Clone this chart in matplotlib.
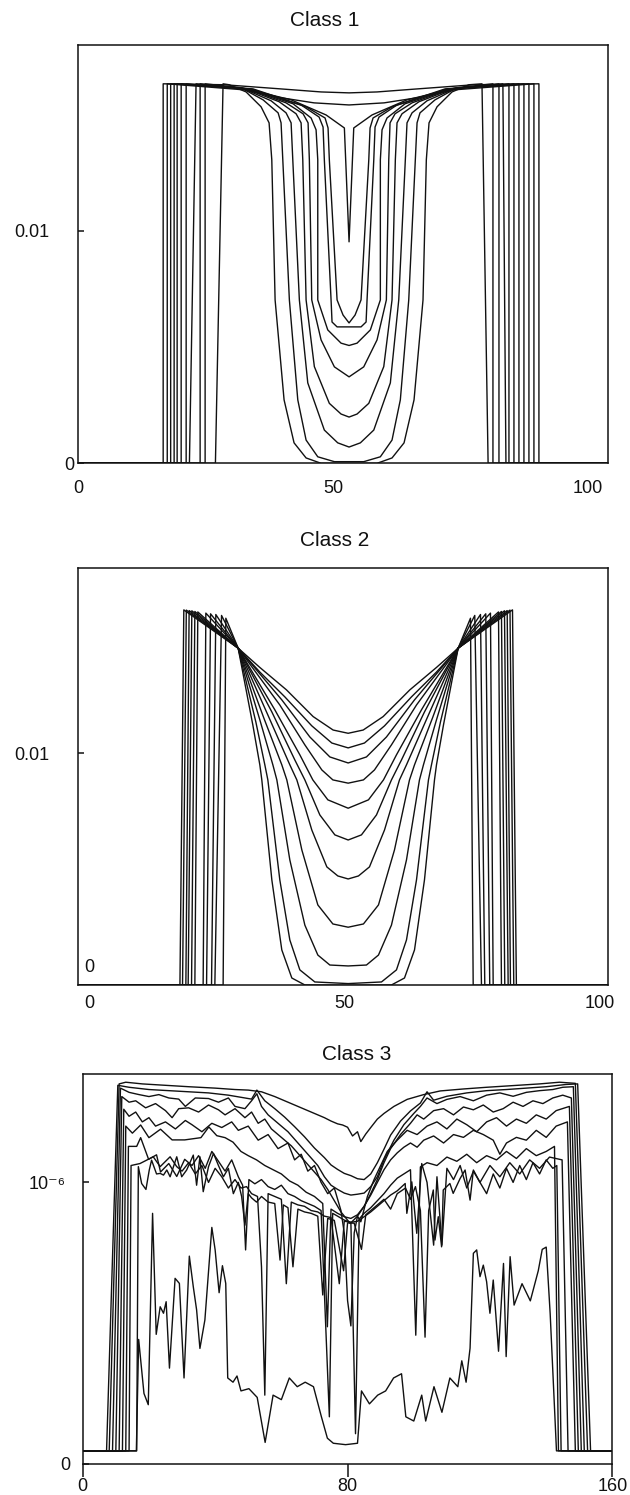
import matplotlib.pyplot as plt

plt.rcParams['font.family'] = ['Liberation Sans', 'DejaVu Sans']

# ---------------- Class 1 ----------------
# left half of each curve (from where it leaves the plateau to the centre),
# the right half is the mirror image about C1_CENTER
C1_CENTER = 53.12
C1_PLATEAU = 0.01633
C1_XMAX = 104

C1_TOP1 = [(28.61, 0.01629), (39.78, 0.01611), (47.63, 0.01598), (53.12, 0.01594)]
C1_TOP2 = [(32.53, 0.01607), (39.78, 0.01573), (46.25, 0.01551), (53.12, 0.01542)]
C1_V = [(31.94, 0.01616), (41.75, 0.01564), (48.61, 0.01499), (52.20, 0.01443), (53.12, 0.00953)]
C1_U2 = [(33.90, 0.01611), (44.69, 0.01534), (48.41, 0.01486), (49.00, 0.01443), (49.25, 0.01306),
         (50.77, 0.00703), (51.94, 0.00638), (53.12, 0.00604)]
C1_U1 = [(34.29, 0.01611), (43.71, 0.01542), (47.24, 0.01490), (48.02, 0.01447), (48.27, 0.01306),
         (49.59, 0.00703), (49.78, 0.00608), (50.77, 0.00587), (53.12, 0.00587)]
C1_F = [(33.51, 0.01611), (42.14, 0.01547), (45.67, 0.01486), (46.65, 0.01435), (46.98, 0.01306),
        (46.98, 0.00703), (48.94, 0.00574), (51.55, 0.00517), (53.12, 0.00507)]
C1_E = [(33.31, 0.01611), (40.76, 0.01551), (44.10, 0.01504), (45.08, 0.01465), (45.33, 0.01306),
        (45.80, 0.00703), (47.63, 0.00531), (50.24, 0.00415), (53.12, 0.00372)]
C1_D = [(32.92, 0.01611), (39.39, 0.01556), (42.73, 0.01504), (43.71, 0.01465), (44.04, 0.01306),
        (44.69, 0.00703), (46.31, 0.00416), (49.25, 0.00258), (51.55, 0.00212), (53.12, 0.00199)]
C1_C = [(32.53, 0.01611), (37.82, 0.01560), (40.76, 0.01508), (41.75, 0.01465), (42.08, 0.01306),
        (43.37, 0.00703), (45.02, 0.00346), (48.27, 0.00143), (50.90, 0.00088), (53.12, 0.00070)]
C1_B = [(31.94, 0.01616), (36.25, 0.01564), (39.20, 0.01508), (39.78, 0.01465), (40.12, 0.01306),
        (41.41, 0.00703), (43.06, 0.00273), (44.69, 0.00100), (46.98, 0.00028), (50.24, 0.00007),
        (53.12, 0.00007)]
C1_A = [(29.59, 0.01629), (32.92, 0.01598), (35.86, 0.01534), (37.43, 0.01465), (37.96, 0.01306),
        (38.61, 0.00703), (40.37, 0.00273), (42.33, 0.00088), (44.69, 0.00023), (47.63, 0.0),
        (53.12, 0.0)]
C1_CURVES = [C1_TOP1, C1_TOP2, C1_V, C1_U2, C1_U1, C1_F, C1_E, C1_D, C1_C, C1_B, C1_A]
# (x at the bottom, x at the top) of the jump up / down
C1_LEFT_EDGES = [(16.65, 16.65), (17.45, 17.45), (18.12, 18.12), (18.80, 18.80), (19.39, 19.39),
                 (20.18, 20.18), (21.16, 21.16), (21.80, 23.10), (23.90, 23.90), (24.88, 24.88),
                 (26.90, 28.40)]
C1_RIGHT_EDGES = [(90.37, 90.37), (89.39, 89.39), (88.41, 88.41), (87.43, 87.43), (86.45, 86.45),
                  (85.47, 85.47), (84.49, 84.49), (83.90, 83.30), (82.53, 82.53), (81.35, 81.35),
                  (80.40, 79.20)]

# ---------------- Class 2 ----------------
C2_CENTER = 50.69
C2_XMIN, C2_XMAX = -2.1, 101.6

C2_B1 = [(29.17, 0.01453), (33.40, 0.01370), (38.63, 0.01273), (43.84, 0.01158), (47.75, 0.01100),
         (50.69, 0.01086)]
C2_B2 = [(29.17, 0.01453), (33.41, 0.01350), (38.30, 0.01243), (43.58, 0.01118), (47.50, 0.01044),
         (50.69, 0.01023)]
C2_B3 = [(29.17, 0.01453), (37.71, 0.01230), (43.20, 0.01070), (47.11, 0.00984), (50.69, 0.00958)]
C2_B4 = [(29.17, 0.01453), (37.32, 0.01208), (42.22, 0.01036), (45.54, 0.00928), (47.70, 0.00885),
         (50.69, 0.00871)]
C2_B5 = [(29.17, 0.01453), (36.35, 0.01187), (41.24, 0.00993), (43.78, 0.00885), (46.72, 0.00799),
         (50.69, 0.00763)]
C2_B6 = [(29.17, 0.01453), (35.76, 0.01178), (40.26, 0.00971), (42.22, 0.00885), (45.15, 0.00734),
         (48.09, 0.00648), (50.69, 0.00626)]
C2_B7 = [(29.17, 0.01453), (34.98, 0.01165), (39.28, 0.00950), (40.65, 0.00885), (43.58, 0.00669),
         (46.52, 0.00510), (48.67, 0.00471), (50.69, 0.00458)]
C2_B8 = [(29.17, 0.01453), (34.19, 0.01152), (37.71, 0.00950), (38.69, 0.00885), (41.63, 0.00583),
         (44.76, 0.00346), (47.70, 0.00264), (50.69, 0.00250)]
C2_B9 = [(29.17, 0.01453), (33.41, 0.01144), (35.96, 0.00950), (36.74, 0.00885), (39.28, 0.00540),
         (42.22, 0.00259), (44.76, 0.00130), (47.11, 0.00087), (50.69, 0.00083)]
C2_B10 = [(29.17, 0.01453), (32.63, 0.01135), (34.39, 0.00950), (34.98, 0.00885), (37.32, 0.00454),
          (39.28, 0.00195), (41.24, 0.00066), (44.17, 0.00014), (50.69, 0.00007)]
C2_B11 = [(29.17, 0.01453), (32.04, 0.01122), (33.41, 0.00950), (33.80, 0.00885), (35.76, 0.00454),
          (37.71, 0.00152), (39.67, 0.00031), (42.22, 0.00001), (50.69, 0.0)]
C2_CURVES = [C2_B1, C2_B2, C2_B3, C2_B4, C2_B5, C2_B6, C2_B7, C2_B8, C2_B9, C2_B10, C2_B11]
C2_EDGES = [17.78, 18.29, 18.94, 19.39, 20.05, 20.70, 22.32, 22.99, 23.96, 24.61, 26.23]
C2_PEAKS = [(18.54, 0.01618), (19.03, 0.01617), (19.58, 0.01615), (20.11, 0.01614), (20.70, 0.01611),
            (21.28, 0.01609), (22.85, 0.01604), (23.77, 0.01601), (24.80, 0.01598), (25.92, 0.01594),
            (26.76, 0.01582)]

# ---------------- Class 3 (values in units of 1e-6) ----------------
C3_1 = [(0, .046), (8.0, .046), (11.0, 1.350), (13, 1.356), (18, 1.350), (25, 1.345), (32, 1.340),
        (40, 1.335), (46, 1.330), (50, 1.328), (54, 1.322), (58, 1.305), (62, 1.285), (66, 1.265),
        (70, 1.245), (73, 1.230), (75, 1.218), (77, 1.208), (78.5, 1.204), (80, 1.196), (81.5, 1.165),
        (83, 1.180), (84, 1.145), (85.5, 1.172), (87, 1.195), (89, 1.225), (91, 1.245), (94, 1.270),
        (98, 1.295), (103, 1.312), (108, 1.325), (115, 1.332), (122, 1.338), (130, 1.344), (138, 1.350),
        (144, 1.356), (148.8, 1.352), (152.5, .046), (160, .046)]
C3_2 = [(0, .046), (7.2, .046), (10.6, 1.345), (14, 1.338), (20, 1.330), (26, 1.326), (32, 1.322),
        (38, 1.318), (44, 1.310), (49, 1.300), (51, 1.296), (52.6, 1.328), (55, 1.290), (58, 1.262),
        (61, 1.232), (64, 1.198), (67, 1.162), (70, 1.122), (73, 1.088), (75, 1.062), (77, 1.046),
        (79, 1.032), (81, 1.024), (83, 1.013), (85, 1.010), (87, 1.030), (89, 1.070), (91, 1.118),
        (93, 1.168), (96, 1.218), (99, 1.254), (102, 1.282), (104, 1.322), (106, 1.292), (110, 1.306),
        (116, 1.318), (122, 1.326), (128, 1.330), (134, 1.335), (140, 1.340), (146, 1.348),
        (149.5, 1.350), (153.4, .046), (160, .046)]
C3_3 = [(0, .046), (9.0, .046), (11.4, 1.335), (14, 1.320), (17, 1.312), (20, 1.305), (23, 1.312),
        (26, 1.300), (29, 1.296), (31, 1.270), (34, 1.300), (38, 1.298), (41, 1.285), (44, 1.300),
        (46, 1.270), (49, 1.262), (51, 1.290), (52.6, 1.315), (54, 1.270), (56, 1.240), (59, 1.210),
        (62, 1.180), (65, 1.140), (68, 1.100), (71, 1.060), (73, 1.020), (75, 0.990), (77, 0.975),
        (79, 0.962), (81, 0.955), (83, 0.958), (85, 0.962), (87, 0.985), (89, 1.020), (91, 1.080),
        (94, 1.150), (97, 1.205), (100, 1.245), (102, 1.270), (104, 1.300), (107, 1.280), (110, 1.295),
        (114, 1.305), (118, 1.290), (122, 1.310), (126, 1.318), (130, 1.306), (134, 1.320),
        (138, 1.326), (142, 1.330), (145, 1.338), (148.2, 1.340), (151.5, .046), (160, .046)]
C3_4 = [(0, .046), (10.0, .046), (11.8, 1.305), (14, 1.285), (16, 1.290), (19, 1.265), (22, 1.280),
        (25, 1.255), (27, 1.230), (29, 1.262), (32, 1.265), (35, 1.250), (38, 1.275), (41, 1.258),
        (43, 1.240), (46, 1.262), (49, 1.230), (51, 1.250), (53, 1.210), (55, 1.225), (57, 1.190),
        (60, 1.160), (63, 1.130), (66, 1.090), (69, 1.050), (72, 1.010), (74, 0.975), (76, 0.935),
        (78, 0.895), (80.8, 0.854), (83, 0.880), (85, 0.915), (87, 0.960), (89, 1.010), (91, 1.070),
        (93, 1.120), (96, 1.170), (99, 1.210), (101, 1.240), (103, 1.225), (106, 1.255), (109, 1.262),
        (112, 1.240), (115, 1.268), (118, 1.258), (121, 1.275), (124, 1.250), (127, 1.262),
        (130, 1.285), (133, 1.270), (136, 1.290), (139, 1.280), (142, 1.300), (145, 1.310),
        (147.6, 1.300), (150.6, .046), (160, .046)]
C3_5 = [(0, .046), (11.0, .046), (12.4, 1.260), (14, 1.235), (16, 1.250), (18, 1.215), (20, 1.230),
        (22, 1.200), (25, 1.215), (28, 1.190), (31, 1.220), (33, 1.205), (36, 1.180), (39, 1.210),
        (42, 1.195), (45, 1.215), (47, 1.185), (50, 1.200), (53, 1.150), (56, 1.170), (59, 1.120),
        (62, 1.140), (64, 1.080), (66, 1.100), (68, 1.040), (70, 1.060), (72, 1.000), (74, 0.960),
        (76, 0.980), (78, 0.900), (79, 0.820), (80, 0.580), (81, 0.490), (82, 0.820), (83, 0.880),
        (84, 0.860), (86, 0.950), (88, 1.010), (90, 1.060), (92, 1.110), (95, 1.150), (98, 1.185),
        (101, 1.170), (104, 1.200), (107, 1.215), (110, 1.190), (113, 1.225), (116, 1.205),
        (119, 1.180), (122, 1.215), (125, 1.230), (128, 1.200), (131, 1.225), (134, 1.210),
        (137, 1.240), (140, 1.225), (143, 1.255), (147.0, 1.270), (149.7, .046), (160, .046)]
C3_6 = [(0, .046), (12.0, .046), (13.0, 1.200), (15, 1.175), (17.5, 1.204), (20, 1.159), (23.5, 1.189),
        (27, 1.151), (30.8, 1.151), (35.7, 1.159), (38.1, 1.197), (40.5, 1.166), (43, 1.159),
        (45.4, 1.143), (47.8, 1.110), (50, 1.095), (52.5, 1.080), (55, 1.060), (57.5, 1.045),
        (60, 1.030), (62.5, 1.005), (65, 0.990), (67.5, 0.965), (70, 0.950), (72.5, 0.925),
        (73.9, 0.487), (75, 0.905), (77, 0.890), (79, 0.878), (81, 0.872), (83, 0.885), (85, 0.915),
        (87, 0.955), (89, 1.000), (91, 1.045), (93, 1.080), (95, 1.105), (97, 1.125), (99, 1.140),
        (101, 1.125), (103, 1.150), (106, 1.165), (109, 1.140), (112, 1.170), (115, 1.160),
        (118, 1.185), (121, 1.170), (124, 1.150), (126, 1.100), (128, 1.140), (131, 1.160),
        (134, 1.150), (137, 1.185), (140, 1.160), (143, 1.200), (146.4, 1.215), (148.8, .046),
        (160, .046)]
C3_7 = [(0, .046), (13.0, .046), (13.8, 1.128), (16.3, 1.128), (17.5, 1.159), (19.9, 1.082),
        (22.3, 1.098), (23.5, 1.037), (26.0, 1.067), (28.4, 1.021), (30.8, 1.082), (33, 1.060),
        (35, 1.095), (37, 1.050), (39, 1.110), (41, 1.075), (43, 1.040), (45, 1.080), (47, 1.020),
        (48.3, 0.990), (49.2, 0.760), (50.2, 1.010), (52, 0.995), (54, 1.010), (56, 0.985), (58, 0.975),
        (60, 0.990), (62, 0.960), (64, 0.950), (66, 0.935), (68, 0.925), (70, 0.915), (72, 0.900),
        (74.5, 0.167), (75.5, 0.890), (77, 0.880), (79, 0.866), (81, 0.858), (82.4, 0.107),
        (83.5, 0.870), (85, 0.890), (87, 0.910), (89, 0.935), (91, 0.960), (93, 0.990), (95, 1.015),
        (97, 1.030), (99, 1.045), (100.6, 0.457), (102, 1.055), (104, 1.070), (107, 1.060),
        (110, 1.090), (113, 1.075), (116, 1.100), (119, 1.070), (122, 1.095), (125, 1.080),
        (128, 1.110), (131, 1.085), (134, 1.120), (137, 1.095), (140, 1.110), (142.5, 1.128),
        (143.7, .046), (160, .046)]
C3_8 = [(0, .046), (14.0, .046), (14.6, 1.060), (17.3, 1.067), (19.3, 1.079), (21.3, 1.091),
        (23.4, 1.056), (26.4, 1.091), (28.4, 1.056), (30, 1.040), (32, 1.070), (34, 1.030), (36, 1.060),
        (38, 1.000), (40, 1.050), (42, 1.020), (44, 0.980), (46, 1.010), (47.8, 0.980), (49.5, 0.985),
        (51, 0.960), (52.8, 0.950), (54, 0.700), (55, 0.244), (56, 0.960), (58, 0.950), (60, 0.940),
        (61.5, 0.640), (63, 0.930), (65, 0.920), (67, 0.915), (69, 0.900), (71, 0.895), (73, 0.880),
        (75, 0.875), (77.5, 0.640), (79, 0.862), (81, 0.858), (83, 0.862), (85, 0.878), (87, 0.895),
        (89, 0.915), (91, 0.935), (93, 0.955), (95, 0.970), (97.4, 0.996), (97.9, 0.890), (99.4, 1.002),
        (100.9, 0.819), (102.4, 1.067), (104, 1.000), (106, 0.777), (107, 1.020), (108.5, 0.777),
        (110, 1.050), (112, 1.010), (114, 1.060), (116, 0.980), (118, 1.040), (120, 1.000),
        (123, 1.060), (126, 1.020), (129, 1.070), (132, 1.030), (135, 1.080), (138, 1.050),
        (141, 1.090), (144.8, 1.080), (146.6, .046), (160, .046)]
C3_9 = [(0, .046), (16.3, .046), (16.8, 1.056), (17.8, 0.996), (19.1, 0.975), (20.1, 1.044),
        (20.8, 1.079), (22.3, 1.030), (23.4, 1.032), (24.4, 1.026), (25.4, 1.044), (26.4, 1.020),
        (28.4, 1.091), (29.9, 1.020), (31.4, 1.044), (33.4, 1.097), (34.4, 0.990), (35.4, 1.091),
        (36.4, 0.967), (38.0, 1.056), (39.5, 1.103), (41, 1.060), (42.5, 1.020), (44, 1.050),
        (45.5, 0.960), (47, 1.000), (48, 0.950), (49, 0.848), (50, 0.960), (51, 0.945), (52.5, 0.930),
        (54, 0.950), (56, 0.930), (58, 0.925), (59.6, 0.724), (60.6, 0.920), (62, 0.910), (63.5, 0.700),
        (65, 0.905), (67, 0.895), (69, 0.890), (71, 0.880), (72.5, 0.600), (74, 0.872), (76, 0.865),
        (78.8, 0.686), (80, 0.856), (82, 0.855), (84.2, 0.762), (85.5, 0.885), (87, 0.900), (89, 0.920),
        (91, 0.940), (93, 0.905), (95, 0.960), (97.5, 0.980), (99, 0.940), (100.5, 0.985),
        (102, 0.900), (103.4, 0.450), (104.5, 0.900), (105.9, 0.973), (106.4, 0.795), (107.4, 0.878),
        (108.4, 0.771), (108.9, 0.973), (110.9, 0.996), (111.9, 0.961), (114.0, 1.014), (115.5, 1.044),
        (117.0, 0.937), (118.0, 1.044), (120, 1.000), (122, 0.960), (124, 1.030), (126, 0.980),
        (128, 1.050), (130, 1.000), (132, 1.060), (134, 1.010), (136, 1.070), (138, 1.030),
        (140, 1.080), (142, 1.050), (143.2, 1.060), (144.5, .046), (160, .046)]
C3_10 = [(0, .046), (16.2, .046), (16.9, 0.442), (18.5, 0.250), (19.8, 0.210), (21.1, 0.890),
         (22.2, 0.460), (23.4, 0.558), (24.4, 0.535), (25.2, 0.576), (26.2, 0.340), (27.9, 0.659),
         (29.2, 0.641), (30.6, 0.305), (32.2, 0.738), (33.4, 0.629), (34.4, 0.547), (35.4, 0.410),
         (36.9, 0.511), (39.0, 0.840), (40.0, 0.760), (41.2, 0.608), (42.2, 0.704), (43.2, 0.641),
         (43.8, 0.305), (45.4, 0.290), (46.6, 0.312), (47.8, 0.259), (50.2, 0.267), (52.7, 0.236),
         (55.1, 0.076), (57.5, 0.244), (60.0, 0.228), (62.4, 0.305), (64.8, 0.274), (67.2, 0.290),
         (69.7, 0.274), (72.1, 0.167), (73.9, 0.091), (75.7, 0.073), (79.4, 0.068), (83.0, 0.073),
         (84.2, 0.259), (86.6, 0.213), (89.1, 0.244), (91.5, 0.259), (93.9, 0.305), (96.3, 0.320),
         (97.6, 0.167), (100.0, 0.152), (102.4, 0.244), (103.6, 0.152), (106.1, 0.274), (108.5, 0.183),
         (110.9, 0.305), (113.3, 0.274), (114.5, 0.366), (115.8, 0.290), (117.0, 0.411), (118.0, 0.748),
         (119.0, 0.760), (120.0, 0.665), (121.0, 0.706), (122.0, 0.647), (123.0, 0.535), (124.0, 0.653),
         (125.6, 0.400), (127.1, 0.712), (127.9, 0.381), (129.1, 0.736), (130.3, 0.564), (132.7, 0.640),
         (135.2, 0.579), (137.6, 0.686), (138.8, 0.762), (140.0, 0.770), (141.2, 0.533), (143.1, .046),
         (160, .046)]
C3_CURVES = [C3_1, C3_2, C3_3, C3_4, C3_5, C3_6, C3_7, C3_8, C3_9, C3_10]


def mirrored(profile, centre):
    right = [(2 * centre - x, y) for x, y in reversed(profile[:-1])]
    return list(profile) + right


LW = 1.0
INK = '#111111'

fig = plt.figure(figsize=(6.3, 14.95), dpi=100)
ax1 = fig.add_axes([0.1243, 0.6901, 0.8414, 0.2798])
ax2 = fig.add_axes([0.1243, 0.3410, 0.8414, 0.2793])
ax3 = fig.add_axes([0.1313, 0.02087, 0.8408, 0.2607])

# class 1
for prof, (lb, lt), (rb, rt) in zip(C1_CURVES, C1_LEFT_EDGES, C1_RIGHT_EDGES):
    inner = mirrored(prof, C1_CENTER)
    xs = [0, lb, lt] + [p[0] for p in inner] + [rt, rb, C1_XMAX]
    ys = [0, 0, C1_PLATEAU] + [p[1] for p in inner] + [C1_PLATEAU, 0, 0]
    ax1.plot(xs, ys, color=INK, lw=LW)
ax1.set_xlim(0, C1_XMAX)
ax1.set_ylim(0, 0.0180)

# class 2
for prof, edge, (px, py) in zip(C2_CURVES, C2_EDGES, C2_PEAKS):
    inner = mirrored(prof, C2_CENTER)
    xs = [C2_XMIN, edge, px] + [p[0] for p in inner] + [2 * C2_CENTER - px, 2 * C2_CENTER - edge, C2_XMAX]
    ys = [0, 0, py] + [p[1] for p in inner] + [py, 0, 0]
    ax2.plot(xs, ys, color=INK, lw=LW)
ax2.set_xlim(C2_XMIN, C2_XMAX)
ax2.set_ylim(0, 0.0180)

# class 3
for curve in C3_CURVES:
    ax3.plot([p[0] for p in curve], [p[1] for p in curve], color=INK, lw=LW)
ax3.set_xlim(0, 160)
ax3.set_ylim(0, 1.385)

for ax in (ax1, ax2, ax3):
    for s in ax.spines.values():
        s.set_linewidth(1.1)
        s.set_color(INK)
    ax.tick_params(labelsize=13, colors=INK, width=1.1)

# ticks and labels
ax1.set_xticks([0, 50, 100])
ax1.tick_params(axis='x', length=0, pad=12)
ax1.set_yticks([0, 0.01], ['0', '0.01'])
ax1.tick_params(axis='y', direction='in', length=4.5)
t = ax1.yaxis.get_major_ticks()
t[0].set_pad(3)
t[1].set_pad(21)

ax2.set_xticks([0, 50, 100])
ax2.tick_params(axis='x', length=0, pad=7)
ax2.set_yticks([0.01], ['0.01'])
ax2.tick_params(axis='y', direction='in', length=4.5, pad=21)
ax2.text(0, 0.0004, '0', fontsize=13, ha='center', va='bottom', color=INK)

ax3.set_xticks([0, 80, 160])
ax3.tick_params(axis='x', direction='out', length=9, pad=1)
ax3.set_yticks([0, 1.0], ['0', '10\u207b\u2076'])
ax3.tick_params(axis='y', direction='in', length=4)
t = ax3.yaxis.get_major_ticks()
t[0].set_pad(9)
t[1].set_pad(12)

fig.text(325 / 630, 1 - 20 / 1495, 'Class 1', ha='center', va='center', fontsize=15, color=INK)
fig.text(334.5 / 630, 1 - 540 / 1495, 'Class 2', ha='center', va='center', fontsize=15, color=INK)
fig.text(356.7 / 630, 1 - 1055 / 1495, 'Class 3', ha='center', va='center', fontsize=15, color=INK)

fig.savefig('out.png', dpi=100)
